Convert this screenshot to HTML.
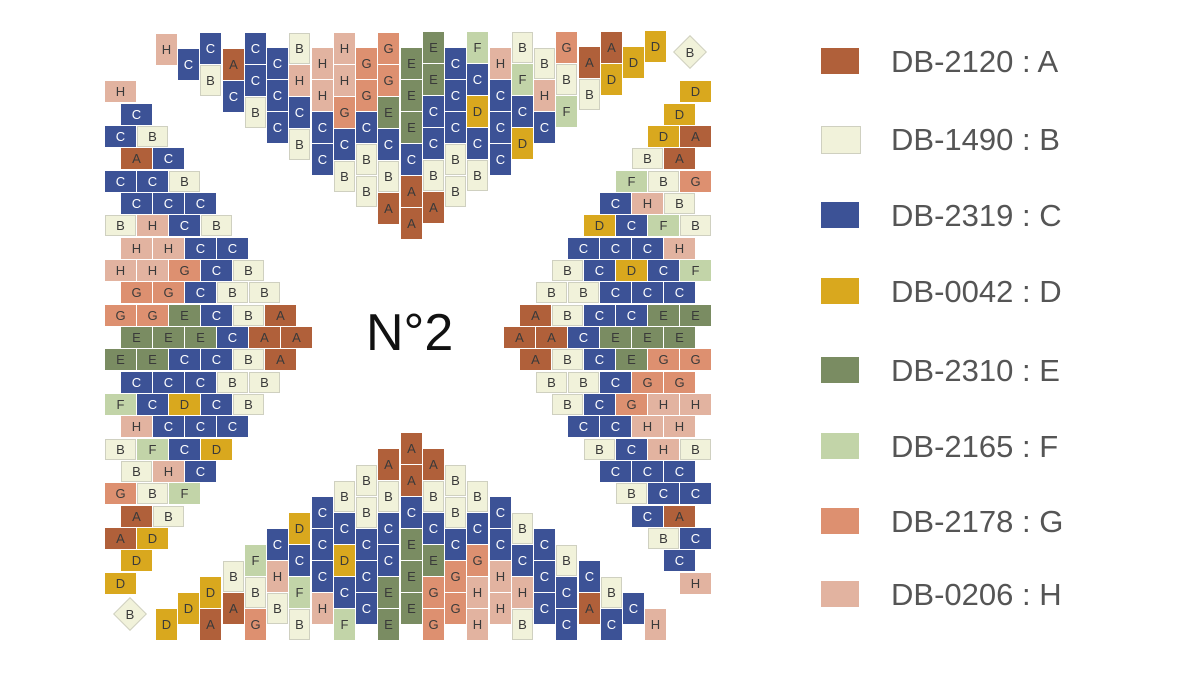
<!DOCTYPE html>
<html><head><meta charset="utf-8"><style>
body{margin:0;width:1200px;height:675px;background:#fff;position:relative;overflow:hidden;font-family:"Liberation Sans",sans-serif}
.c{position:absolute;display:flex;flex-direction:column;gap:1px;width:21px}
.c b{display:block;width:21px;height:31px;box-sizing:border-box}
.r{position:absolute;display:flex;gap:1px;height:21px}
.r b{display:block;width:31px;height:21px;box-sizing:border-box}
b{font-weight:normal;font-size:13px;color:#3a3a3a;display:flex!important;align-items:center;justify-content:center}
.A{background:#b0603a}.B{background:#f1f2da;border:1px solid #cfd0c0}.C{background:#3c5296;color:#fff!important}
.D{background:#d9a81e}.E{background:#7a8c62}.F{background:#c2d4a8}.G{background:#dd9070}.H{background:#e2b3a0}
.dm{position:absolute;width:24px;height:24px;transform:rotate(45deg);background:#f1f2da;border:1px solid #cfd0c0;box-sizing:border-box}
.dl{position:absolute;font-size:13px;color:#3a3a3a;width:24px;text-align:center}
.lg{position:absolute;left:821px;width:38px;height:26px}
.lt{position:absolute;left:891px;font-size:31px;color:#555;line-height:1}
</style></head><body>
<!-- top -->
<div class="c" style="left:156px;top:34px"><b class="H">H</b></div>
<div class="c" style="left:178px;top:49px"><b class="C">C</b></div>
<div class="c" style="left:200px;top:33px"><b class="C">C</b><b class="B">B</b></div>
<div class="c" style="left:223px;top:49px"><b class="A">A</b><b class="C">C</b></div>
<div class="c" style="left:245px;top:33px"><b class="C">C</b><b class="C">C</b><b class="B">B</b></div>
<div class="c" style="left:267px;top:48px"><b class="C">C</b><b class="C">C</b><b class="C">C</b></div>
<div class="c" style="left:289px;top:33px"><b class="B">B</b><b class="H">H</b><b class="C">C</b><b class="B">B</b></div>
<div class="c" style="left:312px;top:48px"><b class="H">H</b><b class="H">H</b><b class="C">C</b><b class="C">C</b></div>
<div class="c" style="left:334px;top:33px"><b class="H">H</b><b class="H">H</b><b class="G">G</b><b class="C">C</b><b class="B">B</b></div>
<div class="c" style="left:356px;top:48px"><b class="G">G</b><b class="G">G</b><b class="C">C</b><b class="B">B</b><b class="B">B</b></div>
<div class="c" style="left:378px;top:33px"><b class="G">G</b><b class="G">G</b><b class="E">E</b><b class="C">C</b><b class="B">B</b><b class="A">A</b></div>
<div class="c" style="left:401px;top:48px"><b class="E">E</b><b class="E">E</b><b class="E">E</b><b class="C">C</b><b class="A">A</b><b class="A">A</b></div>
<div class="c" style="left:423px;top:32px"><b class="E">E</b><b class="E">E</b><b class="C">C</b><b class="C">C</b><b class="B">B</b><b class="A">A</b></div>
<div class="c" style="left:445px;top:48px"><b class="C">C</b><b class="C">C</b><b class="C">C</b><b class="B">B</b><b class="B">B</b></div>
<div class="c" style="left:467px;top:32px"><b class="F">F</b><b class="C">C</b><b class="D">D</b><b class="C">C</b><b class="B">B</b></div>
<div class="c" style="left:490px;top:48px"><b class="H">H</b><b class="C">C</b><b class="C">C</b><b class="C">C</b></div>
<div class="c" style="left:512px;top:32px"><b class="B">B</b><b class="F">F</b><b class="C">C</b><b class="D">D</b></div>
<div class="c" style="left:534px;top:48px"><b class="B">B</b><b class="H">H</b><b class="C">C</b></div>
<div class="c" style="left:556px;top:32px"><b class="G">G</b><b class="B">B</b><b class="F">F</b></div>
<div class="c" style="left:579px;top:47px"><b class="A">A</b><b class="B">B</b></div>
<div class="c" style="left:601px;top:32px"><b class="A">A</b><b class="D">D</b></div>
<div class="c" style="left:623px;top:47px"><b class="D">D</b></div>
<div class="c" style="left:645px;top:31px"><b class="D">D</b></div>
<!-- bottom -->
<div class="c" style="left:156px;bottom:35px"><b class="D">D</b></div>
<div class="c" style="left:178px;bottom:51px"><b class="D">D</b></div>
<div class="c" style="left:200px;bottom:35px"><b class="D">D</b><b class="A">A</b></div>
<div class="c" style="left:223px;bottom:51px"><b class="B">B</b><b class="A">A</b></div>
<div class="c" style="left:245px;bottom:35px"><b class="F">F</b><b class="B">B</b><b class="G">G</b></div>
<div class="c" style="left:267px;bottom:51px"><b class="C">C</b><b class="H">H</b><b class="B">B</b></div>
<div class="c" style="left:289px;bottom:35px"><b class="D">D</b><b class="C">C</b><b class="F">F</b><b class="B">B</b></div>
<div class="c" style="left:312px;bottom:51px"><b class="C">C</b><b class="C">C</b><b class="C">C</b><b class="H">H</b></div>
<div class="c" style="left:334px;bottom:35px"><b class="B">B</b><b class="C">C</b><b class="D">D</b><b class="C">C</b><b class="F">F</b></div>
<div class="c" style="left:356px;bottom:51px"><b class="B">B</b><b class="B">B</b><b class="C">C</b><b class="C">C</b><b class="C">C</b></div>
<div class="c" style="left:378px;bottom:35px"><b class="A">A</b><b class="B">B</b><b class="C">C</b><b class="C">C</b><b class="E">E</b><b class="E">E</b></div>
<div class="c" style="left:401px;bottom:51px"><b class="A">A</b><b class="A">A</b><b class="C">C</b><b class="E">E</b><b class="E">E</b><b class="E">E</b></div>
<div class="c" style="left:423px;bottom:35px"><b class="A">A</b><b class="B">B</b><b class="C">C</b><b class="E">E</b><b class="G">G</b><b class="G">G</b></div>
<div class="c" style="left:445px;bottom:51px"><b class="B">B</b><b class="B">B</b><b class="C">C</b><b class="G">G</b><b class="G">G</b></div>
<div class="c" style="left:467px;bottom:35px"><b class="B">B</b><b class="C">C</b><b class="G">G</b><b class="H">H</b><b class="H">H</b></div>
<div class="c" style="left:490px;bottom:51px"><b class="C">C</b><b class="C">C</b><b class="H">H</b><b class="H">H</b></div>
<div class="c" style="left:512px;bottom:35px"><b class="B">B</b><b class="C">C</b><b class="H">H</b><b class="B">B</b></div>
<div class="c" style="left:534px;bottom:51px"><b class="C">C</b><b class="C">C</b><b class="C">C</b></div>
<div class="c" style="left:556px;bottom:35px"><b class="B">B</b><b class="C">C</b><b class="C">C</b></div>
<div class="c" style="left:579px;bottom:51px"><b class="C">C</b><b class="A">A</b></div>
<div class="c" style="left:601px;bottom:35px"><b class="B">B</b><b class="C">C</b></div>
<div class="c" style="left:623px;bottom:51px"><b class="C">C</b></div>
<div class="c" style="left:645px;bottom:35px"><b class="H">H</b></div>
<!-- left -->
<div class="r" style="left:105px;top:81px"><b class="H">H</b></div>
<div class="r" style="left:121px;top:104px"><b class="C">C</b></div>
<div class="r" style="left:105px;top:126px"><b class="C">C</b><b class="B">B</b></div>
<div class="r" style="left:121px;top:148px"><b class="A">A</b><b class="C">C</b></div>
<div class="r" style="left:105px;top:171px"><b class="C">C</b><b class="C">C</b><b class="B">B</b></div>
<div class="r" style="left:121px;top:193px"><b class="C">C</b><b class="C">C</b><b class="C">C</b></div>
<div class="r" style="left:105px;top:215px"><b class="B">B</b><b class="H">H</b><b class="C">C</b><b class="B">B</b></div>
<div class="r" style="left:121px;top:238px"><b class="H">H</b><b class="H">H</b><b class="C">C</b><b class="C">C</b></div>
<div class="r" style="left:105px;top:260px"><b class="H">H</b><b class="H">H</b><b class="G">G</b><b class="C">C</b><b class="B">B</b></div>
<div class="r" style="left:121px;top:282px"><b class="G">G</b><b class="G">G</b><b class="C">C</b><b class="B">B</b><b class="B">B</b></div>
<div class="r" style="left:105px;top:305px"><b class="G">G</b><b class="G">G</b><b class="E">E</b><b class="C">C</b><b class="B">B</b><b class="A">A</b></div>
<div class="r" style="left:121px;top:327px"><b class="E">E</b><b class="E">E</b><b class="E">E</b><b class="C">C</b><b class="A">A</b><b class="A">A</b></div>
<div class="r" style="left:105px;top:349px"><b class="E">E</b><b class="E">E</b><b class="C">C</b><b class="C">C</b><b class="B">B</b><b class="A">A</b></div>
<div class="r" style="left:121px;top:372px"><b class="C">C</b><b class="C">C</b><b class="C">C</b><b class="B">B</b><b class="B">B</b></div>
<div class="r" style="left:105px;top:394px"><b class="F">F</b><b class="C">C</b><b class="D">D</b><b class="C">C</b><b class="B">B</b></div>
<div class="r" style="left:121px;top:416px"><b class="H">H</b><b class="C">C</b><b class="C">C</b><b class="C">C</b></div>
<div class="r" style="left:105px;top:439px"><b class="B">B</b><b class="F">F</b><b class="C">C</b><b class="D">D</b></div>
<div class="r" style="left:121px;top:461px"><b class="B">B</b><b class="H">H</b><b class="C">C</b></div>
<div class="r" style="left:105px;top:483px"><b class="G">G</b><b class="B">B</b><b class="F">F</b></div>
<div class="r" style="left:121px;top:506px"><b class="A">A</b><b class="B">B</b></div>
<div class="r" style="left:105px;top:528px"><b class="A">A</b><b class="D">D</b></div>
<div class="r" style="left:121px;top:550px"><b class="D">D</b></div>
<div class="r" style="left:105px;top:573px"><b class="D">D</b></div>
<!-- right -->
<div class="r" style="right:489px;top:81px"><b class="D">D</b></div>
<div class="r" style="right:505px;top:104px"><b class="D">D</b></div>
<div class="r" style="right:489px;top:126px"><b class="D">D</b><b class="A">A</b></div>
<div class="r" style="right:505px;top:148px"><b class="B">B</b><b class="A">A</b></div>
<div class="r" style="right:489px;top:171px"><b class="F">F</b><b class="B">B</b><b class="G">G</b></div>
<div class="r" style="right:505px;top:193px"><b class="C">C</b><b class="H">H</b><b class="B">B</b></div>
<div class="r" style="right:489px;top:215px"><b class="D">D</b><b class="C">C</b><b class="F">F</b><b class="B">B</b></div>
<div class="r" style="right:505px;top:238px"><b class="C">C</b><b class="C">C</b><b class="C">C</b><b class="H">H</b></div>
<div class="r" style="right:489px;top:260px"><b class="B">B</b><b class="C">C</b><b class="D">D</b><b class="C">C</b><b class="F">F</b></div>
<div class="r" style="right:505px;top:282px"><b class="B">B</b><b class="B">B</b><b class="C">C</b><b class="C">C</b><b class="C">C</b></div>
<div class="r" style="right:489px;top:305px"><b class="A">A</b><b class="B">B</b><b class="C">C</b><b class="C">C</b><b class="E">E</b><b class="E">E</b></div>
<div class="r" style="right:505px;top:327px"><b class="A">A</b><b class="A">A</b><b class="C">C</b><b class="E">E</b><b class="E">E</b><b class="E">E</b></div>
<div class="r" style="right:489px;top:349px"><b class="A">A</b><b class="B">B</b><b class="C">C</b><b class="E">E</b><b class="G">G</b><b class="G">G</b></div>
<div class="r" style="right:505px;top:372px"><b class="B">B</b><b class="B">B</b><b class="C">C</b><b class="G">G</b><b class="G">G</b></div>
<div class="r" style="right:489px;top:394px"><b class="B">B</b><b class="C">C</b><b class="G">G</b><b class="H">H</b><b class="H">H</b></div>
<div class="r" style="right:505px;top:416px"><b class="C">C</b><b class="C">C</b><b class="H">H</b><b class="H">H</b></div>
<div class="r" style="right:489px;top:439px"><b class="B">B</b><b class="C">C</b><b class="H">H</b><b class="B">B</b></div>
<div class="r" style="right:505px;top:461px"><b class="C">C</b><b class="C">C</b><b class="C">C</b></div>
<div class="r" style="right:489px;top:483px"><b class="B">B</b><b class="C">C</b><b class="C">C</b></div>
<div class="r" style="right:505px;top:506px"><b class="C">C</b><b class="A">A</b></div>
<div class="r" style="right:489px;top:528px"><b class="B">B</b><b class="C">C</b></div>
<div class="r" style="right:505px;top:550px"><b class="C">C</b></div>
<div class="r" style="right:489px;top:573px"><b class="H">H</b></div>
<!-- diamonds -->
<div class="dm" style="left:678px;top:40px"></div><div class="dl" style="left:678px;top:45px">B</div>
<div class="dm" style="left:118px;top:602px"></div><div class="dl" style="left:118px;top:607px">B</div>
<div style="position:absolute;left:366px;top:307px;font-size:52px;color:#111;line-height:1">N°2</div>
<!-- legend -->
<div class="lg A" style="top:48px"></div><div class="lt" style="top:46px">DB-2120 : A</div>
<div class="lg B" style="top:126px"></div><div class="lt" style="top:124px">DB-1490 : B</div>
<div class="lg C" style="top:202px"></div><div class="lt" style="top:200px">DB-2319 : C</div>
<div class="lg D" style="top:278px"></div><div class="lt" style="top:276px">DB-0042 : D</div>
<div class="lg E" style="top:357px"></div><div class="lt" style="top:355px">DB-2310 : E</div>
<div class="lg F" style="top:433px"></div><div class="lt" style="top:431px">DB-2165 : F</div>
<div class="lg G" style="top:508px"></div><div class="lt" style="top:506px">DB-2178 : G</div>
<div class="lg H" style="top:581px"></div><div class="lt" style="top:579px">DB-0206 : H</div>
</body></html>
